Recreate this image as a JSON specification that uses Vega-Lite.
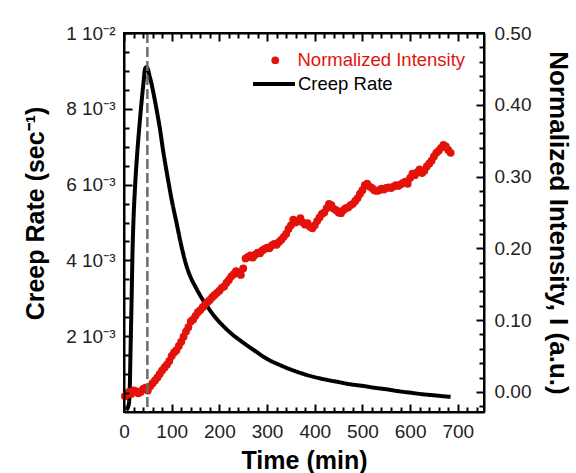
{
  "$schema": "https://vega.github.io/schema/vega-lite/v6.json",
  "width": 360,
  "height": 379,
  "autosize": {"type": "none"},
  "padding": {"left": 124, "top": 33, "right": 92, "bottom": 61},
  "background": "white",
  "config": {
    "font": "Liberation Sans",
    "view": {"stroke": "black", "strokeWidth": 2},
    "axis": {"zindex": 2, "grid": false, "domainColor": "black", "domainWidth": 2, "labelColor": "#222", "titleColor": "black", "labelFont": "Liberation Sans", "titleFont": "Liberation Sans", "labelFontSize": 19, "titleFontSize": 25, "titleFontWeight": "bold", "labelOverlap": false, "labelFlush": false}
  },
  "datasets": {
    "creep": [
      {"t": 5, "rate": 0.00005, "series": "Creep Rate"},
      {"t": 10, "rate": 0.0002, "series": "Creep Rate"},
      {"t": 12, "rate": 0.0006, "series": "Creep Rate"},
      {"t": 14, "rate": 0.0018, "series": "Creep Rate"},
      {"t": 16, "rate": 0.003, "series": "Creep Rate"},
      {"t": 18, "rate": 0.0043, "series": "Creep Rate"},
      {"t": 20, "rate": 0.0051, "series": "Creep Rate"},
      {"t": 23, "rate": 0.0059, "series": "Creep Rate"},
      {"t": 27, "rate": 0.0067, "series": "Creep Rate"},
      {"t": 32, "rate": 0.0075, "series": "Creep Rate"},
      {"t": 37, "rate": 0.0082, "series": "Creep Rate"},
      {"t": 41, "rate": 0.0087, "series": "Creep Rate"},
      {"t": 44, "rate": 0.00905, "series": "Creep Rate"},
      {"t": 47, "rate": 0.0091, "series": "Creep Rate"},
      {"t": 50, "rate": 0.00905, "series": "Creep Rate"},
      {"t": 53, "rate": 0.0089, "series": "Creep Rate"},
      {"t": 57, "rate": 0.0087, "series": "Creep Rate"},
      {"t": 62, "rate": 0.0084, "series": "Creep Rate"},
      {"t": 68, "rate": 0.008, "series": "Creep Rate"},
      {"t": 75, "rate": 0.0075, "series": "Creep Rate"},
      {"t": 82, "rate": 0.0069, "series": "Creep Rate"},
      {"t": 90, "rate": 0.0063, "series": "Creep Rate"},
      {"t": 100, "rate": 0.0056, "series": "Creep Rate"},
      {"t": 110, "rate": 0.005, "series": "Creep Rate"},
      {"t": 120, "rate": 0.0044, "series": "Creep Rate"},
      {"t": 130, "rate": 0.0039, "series": "Creep Rate"},
      {"t": 140, "rate": 0.00355, "series": "Creep Rate"},
      {"t": 150, "rate": 0.0033, "series": "Creep Rate"},
      {"t": 160, "rate": 0.00307, "series": "Creep Rate"},
      {"t": 175, "rate": 0.00278, "series": "Creep Rate"},
      {"t": 190, "rate": 0.00252, "series": "Creep Rate"},
      {"t": 205, "rate": 0.00231, "series": "Creep Rate"},
      {"t": 225, "rate": 0.00207, "series": "Creep Rate"},
      {"t": 250, "rate": 0.00183, "series": "Creep Rate"},
      {"t": 275, "rate": 0.00161, "series": "Creep Rate"},
      {"t": 300, "rate": 0.0014, "series": "Creep Rate"},
      {"t": 325, "rate": 0.00125, "series": "Creep Rate"},
      {"t": 350, "rate": 0.00112, "series": "Creep Rate"},
      {"t": 375, "rate": 0.00101, "series": "Creep Rate"},
      {"t": 400, "rate": 0.00092, "series": "Creep Rate"},
      {"t": 425, "rate": 0.00085, "series": "Creep Rate"},
      {"t": 450, "rate": 0.00079, "series": "Creep Rate"},
      {"t": 475, "rate": 0.00073, "series": "Creep Rate"},
      {"t": 500, "rate": 0.00069, "series": "Creep Rate"},
      {"t": 525, "rate": 0.00064, "series": "Creep Rate"},
      {"t": 550, "rate": 0.0006, "series": "Creep Rate"},
      {"t": 575, "rate": 0.00055, "series": "Creep Rate"},
      {"t": 600, "rate": 0.00051, "series": "Creep Rate"},
      {"t": 625, "rate": 0.00047, "series": "Creep Rate"},
      {"t": 650, "rate": 0.00044, "series": "Creep Rate"},
      {"t": 675, "rate": 0.00041, "series": "Creep Rate"},
      {"t": 685, "rate": 0.0004, "series": "Creep Rate"}
    ],
    "intensity": [
      {"t": 2, "I": -0.006, "series": "Normalized Intensity"},
      {"t": 6, "I": -0.004, "series": "Normalized Intensity"},
      {"t": 10, "I": 0.0, "series": "Normalized Intensity"},
      {"t": 15, "I": -0.003, "series": "Normalized Intensity"},
      {"t": 20, "I": 0.002, "series": "Normalized Intensity"},
      {"t": 25, "I": 0.001, "series": "Normalized Intensity"},
      {"t": 30, "I": -0.002, "series": "Normalized Intensity"},
      {"t": 35, "I": 0.0, "series": "Normalized Intensity"},
      {"t": 40, "I": 0.004, "series": "Normalized Intensity"},
      {"t": 45, "I": 0.006, "series": "Normalized Intensity"},
      {"t": 50, "I": 0.002, "series": "Normalized Intensity"},
      {"t": 55, "I": 0.008, "series": "Normalized Intensity"},
      {"t": 60, "I": 0.012, "series": "Normalized Intensity"},
      {"t": 65, "I": 0.016, "series": "Normalized Intensity"},
      {"t": 70, "I": 0.02, "series": "Normalized Intensity"},
      {"t": 75, "I": 0.025, "series": "Normalized Intensity"},
      {"t": 80, "I": 0.03, "series": "Normalized Intensity"},
      {"t": 85, "I": 0.034, "series": "Normalized Intensity"},
      {"t": 90, "I": 0.038, "series": "Normalized Intensity"},
      {"t": 95, "I": 0.043, "series": "Normalized Intensity"},
      {"t": 100, "I": 0.05, "series": "Normalized Intensity"},
      {"t": 105, "I": 0.055, "series": "Normalized Intensity"},
      {"t": 110, "I": 0.058, "series": "Normalized Intensity"},
      {"t": 115, "I": 0.064, "series": "Normalized Intensity"},
      {"t": 120, "I": 0.07, "series": "Normalized Intensity"},
      {"t": 125, "I": 0.077, "series": "Normalized Intensity"},
      {"t": 130, "I": 0.084, "series": "Normalized Intensity"},
      {"t": 135, "I": 0.09, "series": "Normalized Intensity"},
      {"t": 140, "I": 0.098, "series": "Normalized Intensity"},
      {"t": 145, "I": 0.101, "series": "Normalized Intensity"},
      {"t": 150, "I": 0.106, "series": "Normalized Intensity"},
      {"t": 155, "I": 0.111, "series": "Normalized Intensity"},
      {"t": 160, "I": 0.114, "series": "Normalized Intensity"},
      {"t": 165, "I": 0.118, "series": "Normalized Intensity"},
      {"t": 170, "I": 0.122, "series": "Normalized Intensity"},
      {"t": 175, "I": 0.125, "series": "Normalized Intensity"},
      {"t": 180, "I": 0.128, "series": "Normalized Intensity"},
      {"t": 185, "I": 0.132, "series": "Normalized Intensity"},
      {"t": 190, "I": 0.135, "series": "Normalized Intensity"},
      {"t": 195, "I": 0.138, "series": "Normalized Intensity"},
      {"t": 200, "I": 0.141, "series": "Normalized Intensity"},
      {"t": 205, "I": 0.145, "series": "Normalized Intensity"},
      {"t": 210, "I": 0.147, "series": "Normalized Intensity"},
      {"t": 215, "I": 0.152, "series": "Normalized Intensity"},
      {"t": 220, "I": 0.156, "series": "Normalized Intensity"},
      {"t": 225, "I": 0.161, "series": "Normalized Intensity"},
      {"t": 230, "I": 0.164, "series": "Normalized Intensity"},
      {"t": 235, "I": 0.168, "series": "Normalized Intensity"},
      {"t": 240, "I": 0.166, "series": "Normalized Intensity"},
      {"t": 245, "I": 0.163, "series": "Normalized Intensity"},
      {"t": 250, "I": 0.172, "series": "Normalized Intensity"},
      {"t": 255, "I": 0.186, "series": "Normalized Intensity"},
      {"t": 260, "I": 0.188, "series": "Normalized Intensity"},
      {"t": 265, "I": 0.19, "series": "Normalized Intensity"},
      {"t": 270, "I": 0.187, "series": "Normalized Intensity"},
      {"t": 275, "I": 0.191, "series": "Normalized Intensity"},
      {"t": 280, "I": 0.194, "series": "Normalized Intensity"},
      {"t": 285, "I": 0.193, "series": "Normalized Intensity"},
      {"t": 290, "I": 0.197, "series": "Normalized Intensity"},
      {"t": 295, "I": 0.199, "series": "Normalized Intensity"},
      {"t": 300, "I": 0.201, "series": "Normalized Intensity"},
      {"t": 305, "I": 0.2, "series": "Normalized Intensity"},
      {"t": 310, "I": 0.204, "series": "Normalized Intensity"},
      {"t": 315, "I": 0.206, "series": "Normalized Intensity"},
      {"t": 320, "I": 0.205, "series": "Normalized Intensity"},
      {"t": 325, "I": 0.209, "series": "Normalized Intensity"},
      {"t": 330, "I": 0.212, "series": "Normalized Intensity"},
      {"t": 335, "I": 0.216, "series": "Normalized Intensity"},
      {"t": 340, "I": 0.22, "series": "Normalized Intensity"},
      {"t": 345, "I": 0.227, "series": "Normalized Intensity"},
      {"t": 350, "I": 0.232, "series": "Normalized Intensity"},
      {"t": 355, "I": 0.24, "series": "Normalized Intensity"},
      {"t": 360, "I": 0.236, "series": "Normalized Intensity"},
      {"t": 365, "I": 0.238, "series": "Normalized Intensity"},
      {"t": 370, "I": 0.242, "series": "Normalized Intensity"},
      {"t": 375, "I": 0.236, "series": "Normalized Intensity"},
      {"t": 380, "I": 0.233, "series": "Normalized Intensity"},
      {"t": 385, "I": 0.235, "series": "Normalized Intensity"},
      {"t": 390, "I": 0.23, "series": "Normalized Intensity"},
      {"t": 395, "I": 0.228, "series": "Normalized Intensity"},
      {"t": 400, "I": 0.232, "series": "Normalized Intensity"},
      {"t": 405, "I": 0.238, "series": "Normalized Intensity"},
      {"t": 410, "I": 0.243, "series": "Normalized Intensity"},
      {"t": 415, "I": 0.248, "series": "Normalized Intensity"},
      {"t": 420, "I": 0.25, "series": "Normalized Intensity"},
      {"t": 425, "I": 0.256, "series": "Normalized Intensity"},
      {"t": 430, "I": 0.262, "series": "Normalized Intensity"},
      {"t": 435, "I": 0.26, "series": "Normalized Intensity"},
      {"t": 440, "I": 0.255, "series": "Normalized Intensity"},
      {"t": 445, "I": 0.253, "series": "Normalized Intensity"},
      {"t": 450, "I": 0.25, "series": "Normalized Intensity"},
      {"t": 455, "I": 0.249, "series": "Normalized Intensity"},
      {"t": 460, "I": 0.253, "series": "Normalized Intensity"},
      {"t": 465, "I": 0.256, "series": "Normalized Intensity"},
      {"t": 470, "I": 0.257, "series": "Normalized Intensity"},
      {"t": 475, "I": 0.26, "series": "Normalized Intensity"},
      {"t": 480, "I": 0.262, "series": "Normalized Intensity"},
      {"t": 485, "I": 0.266, "series": "Normalized Intensity"},
      {"t": 490, "I": 0.27, "series": "Normalized Intensity"},
      {"t": 495, "I": 0.276, "series": "Normalized Intensity"},
      {"t": 500, "I": 0.281, "series": "Normalized Intensity"},
      {"t": 505, "I": 0.288, "series": "Normalized Intensity"},
      {"t": 510, "I": 0.29, "series": "Normalized Intensity"},
      {"t": 515, "I": 0.286, "series": "Normalized Intensity"},
      {"t": 520, "I": 0.284, "series": "Normalized Intensity"},
      {"t": 525, "I": 0.281, "series": "Normalized Intensity"},
      {"t": 530, "I": 0.28, "series": "Normalized Intensity"},
      {"t": 535, "I": 0.281, "series": "Normalized Intensity"},
      {"t": 540, "I": 0.283, "series": "Normalized Intensity"},
      {"t": 545, "I": 0.282, "series": "Normalized Intensity"},
      {"t": 550, "I": 0.284, "series": "Normalized Intensity"},
      {"t": 555, "I": 0.285, "series": "Normalized Intensity"},
      {"t": 560, "I": 0.284, "series": "Normalized Intensity"},
      {"t": 565, "I": 0.286, "series": "Normalized Intensity"},
      {"t": 570, "I": 0.288, "series": "Normalized Intensity"},
      {"t": 575, "I": 0.287, "series": "Normalized Intensity"},
      {"t": 580, "I": 0.289, "series": "Normalized Intensity"},
      {"t": 585, "I": 0.291, "series": "Normalized Intensity"},
      {"t": 590, "I": 0.293, "series": "Normalized Intensity"},
      {"t": 595, "I": 0.29, "series": "Normalized Intensity"},
      {"t": 600, "I": 0.298, "series": "Normalized Intensity"},
      {"t": 605, "I": 0.304, "series": "Normalized Intensity"},
      {"t": 610, "I": 0.302, "series": "Normalized Intensity"},
      {"t": 615, "I": 0.306, "series": "Normalized Intensity"},
      {"t": 620, "I": 0.31, "series": "Normalized Intensity"},
      {"t": 625, "I": 0.305, "series": "Normalized Intensity"},
      {"t": 630, "I": 0.308, "series": "Normalized Intensity"},
      {"t": 635, "I": 0.314, "series": "Normalized Intensity"},
      {"t": 640, "I": 0.318, "series": "Normalized Intensity"},
      {"t": 645, "I": 0.322, "series": "Normalized Intensity"},
      {"t": 650, "I": 0.328, "series": "Normalized Intensity"},
      {"t": 655, "I": 0.333, "series": "Normalized Intensity"},
      {"t": 660, "I": 0.336, "series": "Normalized Intensity"},
      {"t": 665, "I": 0.34, "series": "Normalized Intensity"},
      {"t": 670, "I": 0.344, "series": "Normalized Intensity"},
      {"t": 675, "I": 0.342, "series": "Normalized Intensity"},
      {"t": 680, "I": 0.337, "series": "Normalized Intensity"},
      {"t": 685, "I": 0.333, "series": "Normalized Intensity"}
    ],
    "marker": [{"t": 49}]
  },
  "layer": [
    {
      "data": {"name": "creep"},
      "mark": {"type": "point", "opacity": 0},
      "encoding": {
        "x": {
          "field": "t", "type": "quantitative",
          "scale": {"domain": [0, 755], "nice": false, "zero": false},
          "axis": {"orient": "bottom", "title": null, "labels": false, "domain": false, "tickSize": -5, "tickColor": "black", "tickWidth": 2, "zindex": 2,
            "values": [20,40,60,80,120,140,160,180,220,240,260,280,320,340,360,380,420,440,460,480,520,540,560,580,620,640,660,680,720,740]}
        },
        "y": {
          "field": "rate", "type": "quantitative",
          "scale": {"domain": [0, 0.01], "nice": false},
          "axis": {"orient": "left", "title": null, "labels": false, "domain": false, "tickSize": -5, "tickColor": "black", "tickWidth": 2, "zindex": 2,
            "values": [0.0005,0.001,0.0015,0.0025,0.003,0.0035,0.0045,0.005,0.0055,0.0065,0.007,0.0075,0.0085,0.009,0.0095]}
        }
      }
    },
    {
      "data": {"name": "intensity"},
      "mark": {"type": "point", "opacity": 0},
      "encoding": {
        "x": {
          "field": "t", "type": "quantitative",
          "scale": {"domain": [0, 755], "nice": false, "zero": false},
          "axis": {"orient": "top", "title": null, "labels": false, "domain": false, "tickSize": -5, "tickColor": "black", "tickWidth": 2, "zindex": 2,
            "values": [20,40,60,80,120,140,160,180,220,240,260,280,320,340,360,380,420,440,460,480,520,540,560,580,620,640,660,680,720,740]}
        },
        "y": {
          "field": "I", "type": "quantitative",
          "scale": {"domain": [-0.028, 0.5], "nice": false, "zero": false},
          "axis": {"orient": "right", "title": null, "labels": false, "domain": false, "tickSize": -5, "tickColor": "black", "tickWidth": 2, "zindex": 2,
            "values": [-0.02,0.02,0.04,0.06,0.08,0.12,0.14,0.16,0.18,0.22,0.24,0.26,0.28,0.32,0.34,0.36,0.38,0.42,0.44,0.46,0.48]}
        }
      }
    },
    {
      "data": {"name": "creep"},
      "mark": {"type": "line", "color": "black", "strokeWidth": 4, "interpolate": "monotone"},
      "encoding": {
        "x": {
          "field": "t", "type": "quantitative",
          "scale": {"domain": [0, 755], "nice": false, "zero": false},
          "axis": {
            "orient": "bottom", "title": "Time (min)", "titlePadding": 7,
            "values": [0,100,200,300,400,500,600,700],
            "format": "d", "labelPadding": 18, "tickSize": -8, "tickColor": "black", "tickWidth": 2, "zindex": 2
          }
        },
        "y": {
          "field": "rate", "type": "quantitative",
          "scale": {"domain": [0, 0.01], "nice": false},
          "axis": {
            "orient": "left", "title": "Creep Rate (sec⁻¹)", "titlePadding": 17, "titleY": 180,
            "values": [0.002,0.004,0.006,0.008,0.01],
            "labelExpr": "datum.value > 0.0099 ? '1 10⁻²' : round(datum.value*1000) + ' 10⁻³'",
            "labelPadding": 17, "tickSize": -8, "tickColor": "black", "tickWidth": 2, "zindex": 2
          }
        },
        "strokeDash": {
          "field": "series", "type": "nominal",
          "scale": {"domain": ["Creep Rate"], "range": [[1, 0]]},
          "legend": {
            "orient": "none", "legendX": 127, "legendY": 28, "title": null, "padding": 0,
            "symbolType": "stroke", "symbolSize": 1764, "symbolStrokeWidth": 4, "symbolStrokeColor": "black",
            "labelFont": "Liberation Sans", "labelFontSize": 18.5, "labelColor": "black", "labelOffset": 1, "labelLimit": 300
          }
        }
      }
    },
    {
      "data": {"name": "intensity"},
      "mark": {"type": "point", "filled": true, "size": 62, "opacity": 1},
      "encoding": {
        "x": {
          "field": "t", "type": "quantitative",
          "scale": {"domain": [0, 755], "nice": false, "zero": false},
          "axis": {
            "orient": "top", "title": null, "labels": false,
            "values": [0,100,200,300,400,500,600,700], "tickSize": -8, "tickColor": "black", "tickWidth": 2, "zindex": 2
          }
        },
        "y": {
          "field": "I", "type": "quantitative",
          "scale": {"domain": [-0.028, 0.5], "nice": false, "zero": false},
          "axis": {
            "orient": "right", "title": "Normalized Intensity, I    (a.u.)", "titlePadding": 14, "titleFontSize": 26,
            "values": [0,0.1,0.2,0.3,0.4,0.5],
            "format": ".2f", "labelPadding": 18, "tickSize": -8, "tickColor": "black", "tickWidth": 2, "zindex": 2
          }
        },
        "color": {
          "field": "series", "type": "nominal",
          "scale": {"domain": ["Normalized Intensity"], "range": ["#e3120b"]},
          "legend": {
            "orient": "none", "legendX": 142, "legendY": 18, "title": null, "padding": 0,
            "symbolType": "circle", "symbolSize": 60,
            "labelFont": "Liberation Sans", "labelFontSize": 18.5, "labelColor": "#e3120b", "labelOffset": 13, "labelLimit": 300
          }
        }
      }
    },
    {
      "data": {"name": "marker"},
      "mark": {"type": "rule", "color": "#6b6b6b", "strokeWidth": 2.5, "strokeDash": [10, 4]},
      "encoding": {
        "x": {"field": "t", "type": "quantitative", "scale": {"domain": [0, 755], "nice": false, "zero": false}, "axis": null}
      }
    }
  ],
  "resolve": {"scale": {"y": "independent"}, "axis": {"x": "independent"}}
}
